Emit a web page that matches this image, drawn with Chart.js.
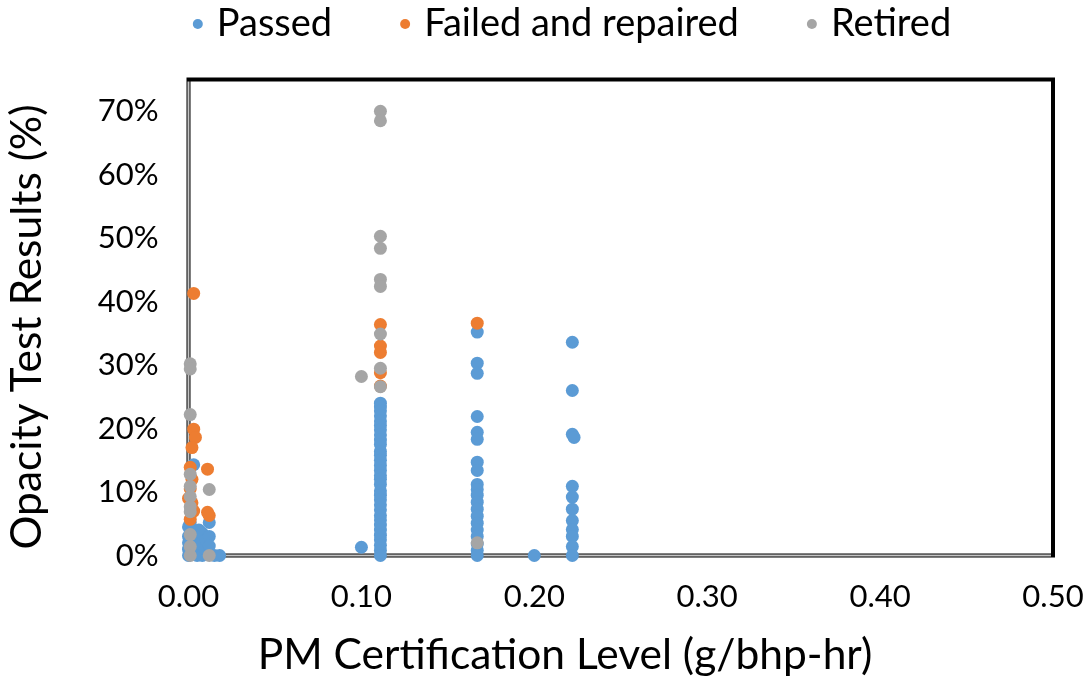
<!DOCTYPE html>
<html>
<head>
<meta charset="utf-8">
<title>Opacity vs PM certification</title>
<script src="https://cdn.jsdelivr.net/npm/chart.js@4/dist/chart.umd.min.js"></script>
<style>
  html, body { margin: 0; padding: 0; background: #fff; }
</style>
</head>
<body>
<canvas id="chart" width="1091" height="677"></canvas>
<script>
// [PM certification level (g/bhp-hr), opacity (%)]
const passedPoints = [
  [0.000, 0], [0.000, 1], [0.000, 2], [0.000, 3], [0.000, 4.5], [0.001, 5.2],
  [0.003, 14.3], [0.003, 1], [0.004, 3], [0.005, 0], [0.006, 2], [0.006, 4],
  [0.008, 0], [0.008, 3.5], [0.010, 1], [0.010, 2.5], [0.012, 5.2], [0.012, 3],
  [0.012, 1.5], [0.015, 0], [0.018, 0],
  [0.100, 1.3],
  [0.111, 24], [0.111, 23.4], [0.111, 22.8], [0.111, 22], [0.111, 21.2], [0.111, 20.5],
  [0.111, 19.8], [0.111, 19], [0.111, 18.2], [0.111, 17.5], [0.111, 16.4], [0.111, 15.8],
  [0.111, 15], [0.111, 14.2], [0.111, 13.4], [0.111, 12.6], [0.111, 12], [0.111, 11.2],
  [0.111, 10.2], [0.111, 9.5], [0.111, 8.8], [0.111, 8], [0.111, 7.2], [0.111, 6.3],
  [0.111, 5.6], [0.111, 4.8], [0.111, 4], [0.111, 3.2], [0.111, 2.5], [0.111, 1.6],
  [0.111, 0.8], [0.111, 0],
  [0.167, 35.2], [0.167, 30.3], [0.167, 28.7], [0.167, 21.9], [0.167, 19.4], [0.167, 18.3],
  [0.167, 14.7], [0.167, 13.4], [0.167, 11.2], [0.167, 10.4], [0.167, 9.5], [0.167, 8.4],
  [0.167, 7.3], [0.167, 6.2], [0.167, 5.1], [0.167, 4], [0.167, 3], [0.167, 1.8],
  [0.167, 0.8], [0.167, 0],
  [0.200, 0],
  [0.222, 33.6], [0.222, 26], [0.222, 19.1], [0.223, 18.6], [0.222, 10.9], [0.222, 9.2],
  [0.222, 7.3], [0.222, 5.5], [0.222, 4.1], [0.222, 3], [0.222, 1.4], [0.222, 0]
];

const repairedPoints = [
  [0.003, 41.3], [0.003, 19.9], [0.004, 18.6], [0.002, 17], [0.001, 13.9], [0.011, 13.6],
  [0.002, 12], [0.001, 10.5], [0.000, 9], [0.002, 8.3], [0.011, 6.8], [0.012, 6.3],
  [0.001, 5.7], [0.003, 7],
  [0.111, 36.4], [0.111, 33], [0.111, 32], [0.111, 28.8], [0.111, 26.7],
  [0.167, 36.6]
];

const retiredPoints = [
  [0.001, 30.2], [0.001, 29.4], [0.001, 22.2], [0.001, 12.8], [0.001, 10.9], [0.012, 10.4],
  [0.001, 9.3], [0.001, 7.7], [0.001, 6.9], [0.001, 3.3], [0.001, 1.4], [0.001, 0],
  [0.012, 0],
  [0.100, 28.2],
  [0.111, 70], [0.111, 68.5], [0.111, 50.3], [0.111, 48.4], [0.111, 43.5], [0.111, 42.4],
  [0.111, 34.9], [0.111, 29.5], [0.111, 26.6],
  [0.167, 2]
];

const seriesNames = ['Passed', 'Failed and repaired', 'Retired'];
const seriesColors = ['#5B9BD5', '#ED7D31', '#A5A5A5'];

const yTicks = [0, 10, 20, 30, 40, 50, 60, 70];
const xTicks = [0, 0.1, 0.2, 0.3, 0.4, 0.5];

const xTitle = 'PM Certification Level (g/bhp-hr)';
const yTitle = 'Opacity Test Results (%)';

const FONT = 'Lato';
const toXY = (pts) => pts.map((p) => ({ x: p[0], y: p[1] }));

// black plot frame, with a grey axis line along the left and bottom edges
const plotFrame = {
  id: 'plotFrame',
  beforeDatasetsDraw(chart) {
    const { ctx } = chart;
    const { left, right, top, bottom } = chart.chartArea;
    ctx.save();
    ctx.strokeStyle = '#000';
    ctx.lineWidth = 4;
    ctx.strokeRect(left, top, right - left, bottom - top);
    ctx.strokeStyle = '#c4c4c4';
    ctx.lineWidth = 2;
    ctx.beginPath();
    ctx.moveTo(left, top + 2);
    ctx.lineTo(left, bottom);
    ctx.lineTo(right - 2, bottom);
    ctx.stroke();
    ctx.restore();
  }
};

// single-row legend across the top
const topLegend = {
  id: 'topLegend',
  afterDraw(chart, args, opts) {
    const { ctx } = chart;
    const sets = chart.data.datasets;
    ctx.save();
    ctx.font = opts.size + 'px ' + FONT;
    ctx.textBaseline = 'middle';
    const widths = sets.map((d) => opts.dot * 2 + opts.textGap + ctx.measureText(d.label).width);
    const total = widths.reduce((a, b) => a + b, 0) + opts.itemGap * (sets.length - 1);
    let x = opts.centerX - total / 2;
    sets.forEach((d, i) => {
      ctx.fillStyle = d.backgroundColor;
      ctx.beginPath();
      ctx.arc(x + opts.dot, opts.y, opts.dot, 0, Math.PI * 2);
      ctx.fill();
      ctx.fillStyle = '#000';
      ctx.fillText(d.label, x + opts.dot * 2 + opts.textGap, opts.y);
      x += widths[i] + opts.itemGap;
    });
    ctx.restore();
  }
};

// axis titles, placed on their own centres rather than the plot's
const axisTitles = {
  id: 'axisTitles',
  afterDraw(chart, args, opts) {
    const { ctx } = chart;
    ctx.save();
    ctx.font = opts.size + 'px ' + FONT;
    ctx.fillStyle = '#000';
    ctx.textAlign = 'center';
    ctx.textBaseline = 'middle';
    ctx.fillText(xTitle, opts.xCenter[0], opts.xCenter[1]);
    ctx.translate(opts.yCenter[0], opts.yCenter[1]);
    ctx.rotate(-Math.PI / 2);
    ctx.fillText(yTitle, 0, 0);
    ctx.restore();
  }
};

const makeSet = (i, pts) => ({
  label: seriesNames[i],
  data: toXY(pts),
  backgroundColor: seriesColors[i],
  borderWidth: 0,
  pointRadius: 6.5,
  pointHoverRadius: 6.5,
  order: 3 - i,
  clip: false
});

new Chart(document.getElementById('chart'), {
  type: 'scatter',
  data: {
    datasets: [
      makeSet(0, passedPoints),
      makeSet(1, repairedPoints),
      makeSet(2, retiredPoints)
    ]
  },
  options: {
    responsive: false,
    animation: false,
    layout: { padding: { top: 79.5, right: 38, left: 0, bottom: 0 } },
    plugins: {
      legend: { display: false },
      tooltip: { enabled: false },
      topLegend: { size: 38, dot: 5, textGap: 14, itemGap: 68, centerX: 572, y: 24 },
      axisTitles: { size: 42.5, xCenter: [565, 655], yCenter: [27, 327] }
    },
    scales: {
      x: {
        type: 'linear',
        min: 0,
        max: 0.5,
        afterBuildTicks: (s) => { s.ticks = xTicks.map((v) => ({ value: v })); },
        afterFit: (s) => {
          s.height = 121.5;
          // end labels may overhang the plot; the layout padding already allows for it
          s.paddingLeft = 0;
          s.paddingRight = 0;
        },
        grid: { display: false },
        border: { display: false },
        ticks: {
          padding: 15,
          color: '#000',
          font: { family: FONT, size: 31 },
          callback: (v) => v.toFixed(2)
        }
      },
      y: {
        type: 'linear',
        min: 0,
        max: 75,
        afterBuildTicks: (s) => { s.ticks = yTicks.map((v) => ({ value: v })); },
        afterFit: (s) => { s.width = 188.5; },
        grid: { display: false },
        border: { display: false },
        ticks: {
          padding: 22,
          color: '#000',
          font: { family: FONT, size: 31 },
          callback: (v) => v + '%'
        }
      }
    }
  },
  plugins: [plotFrame, topLegend, axisTitles]
});
</script>
</body>
</html>
